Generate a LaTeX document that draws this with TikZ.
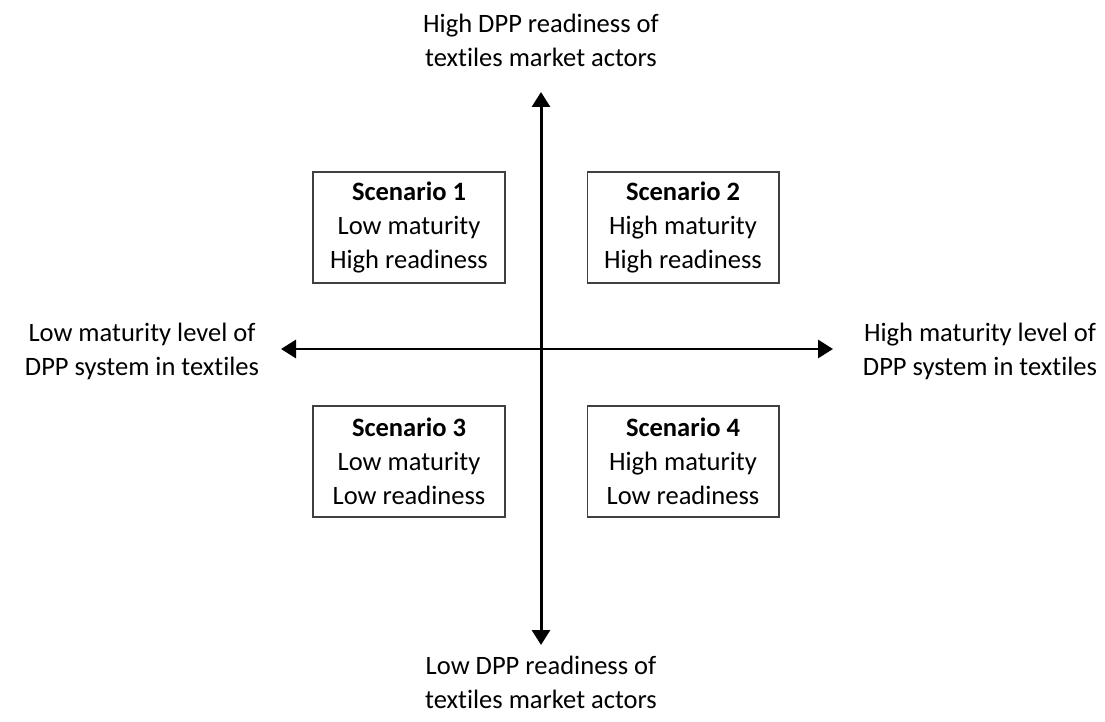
\documentclass[tikz,border=0pt]{standalone}
\usepackage{fontspec}
\setmainfont{Carlito}[Ligatures=NoCommon]
\usepackage{xcolor}
\usetikzlibrary{arrows.meta,positioning}
\tikzset{
	scenbox/.style={draw=black!75,line width=0.6pt,minimum width=3.84cm,minimum height=2.22cm,align=center,inner sep=2pt},
	axislabel/.style={align=center},
	axisline/.style={line width=1.7pt,{Triangle[width=0.36cm,length=0.3cm]}-{Triangle[width=0.36cm,length=0.3cm]}}
}
\begin{document}
\begin{tikzpicture}[x=0.02cm,y=-0.02cm,font=\fontsize{15.1}{19.3}\selectfont]
		\useasboundingbox (0,0) rectangle (1105,722);
		\coordinate (ytop) at (541,92);
		\coordinate (ybot) at (541,645);
		\coordinate (xleft) at (281,349);
		\coordinate (xright) at (833,349);
		\draw [axisline] (ybot) -- (ytop);
		\draw [axisline] (xleft) -- (xright);
		\node[axislabel] (hiready) at (541,40) {High DPP readiness of\\textiles market actors};
		\node[axislabel] (loready) at (541,682) {Low DPP readiness of\\textiles market actors};
		\node[axislabel] (lomature) at (142,351) {Low maturity level of\\DPP system in textiles};
		\node[axislabel] (himature) at (980,351) {High maturity level of\\DPP system in textiles};
		\node[scenbox] (s1) at (409,227.5) {\textbf{Scenario 1}\\Low maturity\\High readiness};
		\node[scenbox] (s2) at (683,227.5) {\textbf{Scenario 2}\\High maturity\\High readiness};
		\node[scenbox] (s3) at (409,461.5) {\textbf{Scenario 3}\\Low maturity\\Low readiness};
		\node[scenbox] (s4) at (683,461.5) {\textbf{Scenario 4}\\High maturity\\Low readiness};
	\end{tikzpicture}
\end{document}
